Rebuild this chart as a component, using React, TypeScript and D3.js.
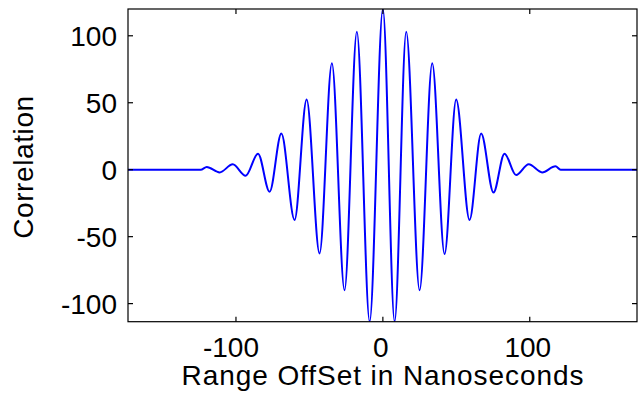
import React from "react";
import * as d3 from "d3";

// Extremum positions (ns) and correlation values
const offsetNs = [
  -175, -124, -119.9, -111.1, -102.2, -93.4, -85.0, -77.1, -69.1, -60.1, -51.9, -43.1,
  -34.7, -26.1, -17.7, -9.0, 0, 8.0, 15.9, 25.0, 33.6, 42.0, 49.9, 59.0, 66.9, 75.3,
  82.8, 90.7, 99.3, 108.4, 117.5, 121, 175,
];
const correlation = [
  0, 0, 2, -2, 4, -4.5, 12, -16.5, 27, -37.5, 52.5, -62.5,
  79.5, -90, 103, -113.4, 120, -113.4, 103, -90, 79.5, -63, 52.5, -37.5, 27, -17,
  12, -4, 4, -2, 2.5, 0, 0,
];

const xTicks = [-100, 0, 100];
const yTicks = [-100, -50, 0, 50, 100];
const xDomain = [-173.5, 173];
const yDomain = [-113.5, 120];
const xLabel = "Range OffSet in Nanoseconds";
const yLabel = "Correlation";

const W = 638;
const H = 402;
const L = 128, R = 637, T = 9, B = 321.7;
const FONT = "'Liberation Sans', Arial, sans-serif";

export default function App() {
  const x = d3.scaleLinear().domain(xDomain).range([L, R]);
  const y = d3.scaleLinear().domain(yDomain).range([B, T]);
  const pts = offsetNs.map((t, i) => [t, correlation[i]] as [number, number]);
  const line = d3
    .line<[number, number]>()
    .x((d) => x(d[0]))
    .y((d) => y(d[1]))
    .curve(d3.curveMonotoneX);
  const tl = 5;
  return (
    <svg
      width={W}
      height={H}
      style={{ position: "absolute", left: 0, top: 0, background: "#fff" }}
    >
      <defs>
        <clipPath id="plotclip">
          <rect x={L} y={T} width={R - L} height={B - T} />
        </clipPath>
      </defs>
      <rect x={0} y={0} width={W} height={H} fill="#fff" />
      <path
        d={line(pts) || ""}
        fill="none"
        stroke="#0000ff"
        strokeWidth={2}
        clipPath="url(#plotclip)"
      />
      <rect x={L} y={T} width={R - L} height={B - T} fill="none" stroke="#000" strokeWidth={1.2} />
      {xTicks.map((t) => (
        <g key={"x" + t}>
          <line x1={x(t)} x2={x(t)} y1={B} y2={B - tl} stroke="#000" strokeWidth={1.2} />
          <line x1={x(t)} x2={x(t)} y1={T} y2={T + tl} stroke="#000" strokeWidth={1.2} />
          <text
            x={x(t) - (t < 0 ? 5 : 2)}
            y={357}
            textAnchor="middle"
            fontFamily={FONT}
            fontSize={28}
            fill="#000"
          >
            {t}
          </text>
        </g>
      ))}
      {yTicks.map((t) => (
        <g key={"y" + t}>
          <line x1={L} x2={L + tl} y1={y(t)} y2={y(t)} stroke="#000" strokeWidth={1.2} />
          <line x1={R} x2={R - tl} y1={y(t)} y2={y(t)} stroke="#000" strokeWidth={1.2} />
          <text
            x={117}
            y={y(t)}
            dy="0.36em"
            textAnchor="end"
            fontFamily={FONT}
            fontSize={28}
            fill="#000"
          >
            {t}
          </text>
        </g>
      ))}
      <text
        x={(L + R) / 2}
        y={385}
        textAnchor="middle"
        fontFamily={FONT}
        fontSize={28}
        textLength={402}
        lengthAdjust="spacing"
        fill="#000"
      >
        {xLabel}
      </text>
      <text
        transform={`translate(33,${(T + B) / 2 + 2}) rotate(-90)`}
        textAnchor="middle"
        fontFamily={FONT}
        fontSize={28}
        textLength={143}
        lengthAdjust="spacing"
        fill="#000"
      >
        {yLabel}
      </text>
    </svg>
  );
}
